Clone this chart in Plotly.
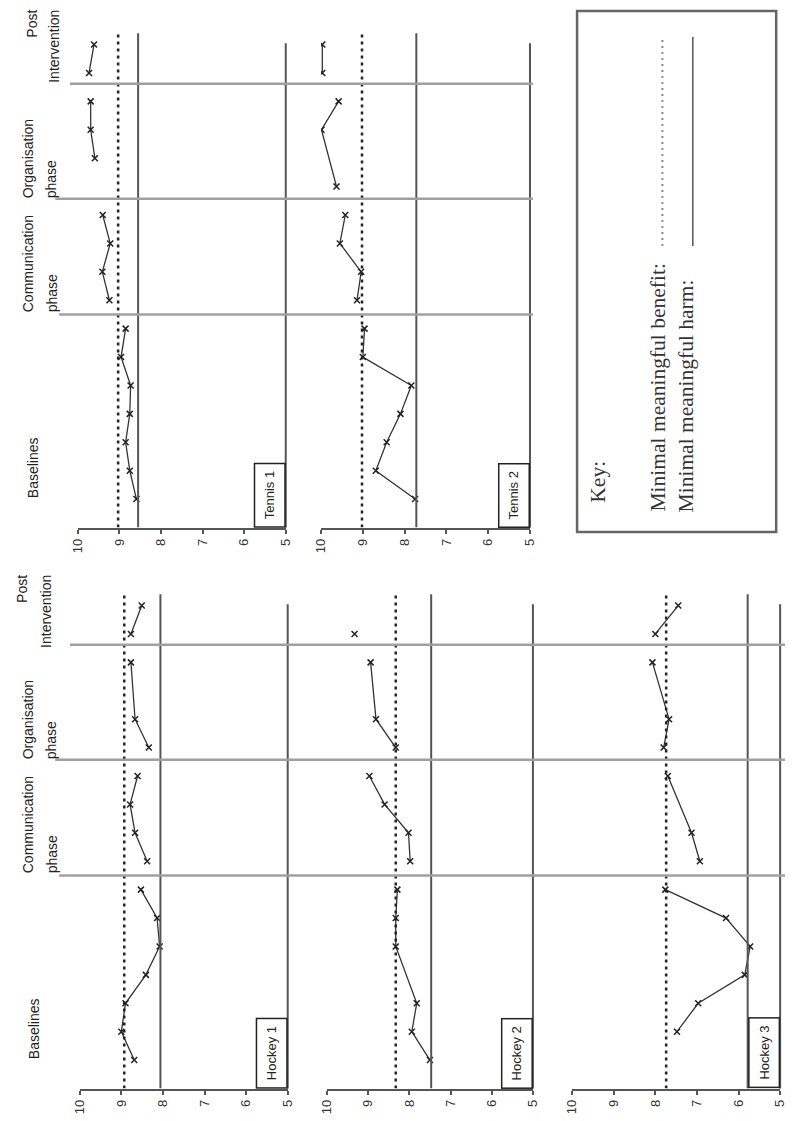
import plotly.graph_objects as go

# The page body has an 8px margin, so the figure is sized to fit the window after it.
PAGE_OFF = 8
FIG_W, FIG_H = 793 - PAGE_OFF, 1121 - PAGE_OFF

# ---------------- data ----------------
value_ticks = [10, 9, 8, 7, 6, 5]
panel_names = ["Tennis 1", "Tennis 2", "Hockey 1", "Hockey 2", "Hockey 3"]

tennis1_session = [0, 1, 2, 3, 4, 5, 6, None, 7, 8, 9, 10, None, 12, 13, 14, None, 15, 16]
tennis1_score = [8.59, 8.75, 8.85, 8.75, 8.73, 8.96, 8.85, None, 9.24, 9.41, 9.22, 9.40, None,
                 9.59, 9.69, 9.69, None, 9.73, 9.61]

tennis2_session = [0, 1, 2, 3, 4, 5, 6, None, 7, 8, 9, 10, None, 11, 13, 14, None, 15, 16]
tennis2_score = [7.75, 8.69, 8.43, 8.10, 7.84, 9.00, 8.96, None, 9.14, 9.04, 9.55, 9.42, None,
                 9.63, 9.99, 9.58, None, 9.97, 9.97]

hockey1_session = [0, 1, 2, 3, 4, 5, 6, None, 7, 8, 9, 10, None, 11, 12, 14, None, 15, 16]
hockey1_score = [8.69, 9.00, 8.90, 8.41, 8.08, 8.14, 8.53, None, 8.38, 8.67, 8.79, 8.61, None,
                 8.34, 8.67, 8.77, None, 8.77, 8.51]

hockey2_session = [0, 1, 2, 4, 5, 6, None, 7, 8, 9, 10, None, 11, 12, 14, None, 15]
hockey2_score = [7.50, 7.94, 7.82, 8.33, 8.33, 8.29, None, 7.98, 8.02, 8.60, 8.97, None,
                 8.33, 8.81, 8.94, None, 9.33]

hockey3_session = [1, 2, 3, 4, 5, 6, None, 7, 8, 10, None, 11, 12, 14, None, 15, 16]
hockey3_score = [7.48, 6.97, 5.85, 5.72, 6.30, 7.76, None, 6.93, 7.13, 7.70, None,
                 7.80, 7.67, 8.07, None, 8.00, 7.45]

benefit = [9.03, 9.02, 8.93, 8.33, 7.74]   # minimal meaningful benefit per panel
harm = [8.55, 7.72, 8.06, 7.47, 5.78]      # minimal meaningful harm per panel

sessions = [tennis1_session, tennis2_session, hockey1_session, hockey2_session, hockey3_session]
scores = [tennis1_score, tennis2_score, hockey1_score, hockey2_score, hockey3_score]

# ---------------- layout geometry (window pixels) ----------------
SLOT_MIN, SLOT_MAX = -1, 16.6
PHASE_BREAKS = [6.5, 10.57, 14.62]
ROWS = {"top": (527.5, 27.5), "bottom": (1088.5, 588.5)}   # px y of SLOT_MIN / SLOT_MAX
PANEL_PX = [(71, 283, "top"), (319, 532, "top"), (73, 285, "bottom"),
            (325, 535, "bottom"), (575, 787, "bottom")]

SANS = "Liberation Sans, Arial, sans-serif"
SERIF = "Liberation Serif, Times New Roman, serif"
AX = "#555555"


def px(x):
    return (x - PAGE_OFF) / FIG_W


def py(y):
    return 1 - (y - PAGE_OFF) / FIG_H


def slot_py(row, s):
    yb, yt = ROWS[row]
    return py(yb + (s - SLOT_MIN) / (SLOT_MAX - SLOT_MIN) * (yt - yb))


fig = go.Figure()
shapes = []
annotations = []

for i, (name, sess, sc, ben, hm, (x0, x1, row)) in enumerate(
        zip(panel_names, sessions, scores, benefit, harm, PANEL_PX)):
    k = i + 1
    xa, ya = f"x{k}", f"y{k}"
    fig.add_trace(go.Scatter(
        x=sc, y=sess, xaxis=xa, yaxis=ya, mode="lines+markers",
        line=dict(color="#333333", width=1.3),
        marker=dict(symbol="x-thin", size=6, line=dict(color="#222222", width=1.5)),
        connectgaps=False, showlegend=False, hoverinfo="skip"))
    yb, yt = ROWS[row]
    fig.layout[f"xaxis{k}"] = dict(
        domain=[px(x0), px(x1)], range=[10, 5], anchor=ya,
        showline=True, linecolor=AX, linewidth=2, ticks="outside", ticklen=4,
        tickwidth=1.5, tickcolor=AX, tickvals=value_ticks,
        ticktext=[str(v) for v in value_ticks], tickangle=-90,
        tickfont=dict(family=SANS, size=13, color="#333333"),
        showgrid=False, zeroline=False, fixedrange=True)
    fig.layout[f"yaxis{k}"] = dict(
        domain=[py(yb), py(yt)], range=[SLOT_MIN, SLOT_MAX], anchor=xa,
        visible=False, fixedrange=True)
    # harm (solid) and benefit (dotted) lines
    shapes.append(dict(type="line", xref=xa, yref=ya, x0=hm, x1=hm, y0=-1, y1=16.4,
                       line=dict(color=AX, width=2)))
    shapes.append(dict(type="line", xref=xa, yref=ya, x0=ben, x1=ben, y0=-1, y1=16.4,
                       line=dict(color="#222222", width=2.5, dash="3px,4px")))
    # time axis (right side)
    shapes.append(dict(type="line", xref="paper", yref="paper", x0=px(x1), x1=px(x1),
                       y0=slot_py(row, -1), y1=slot_py(row, 16.05),
                       line=dict(color=AX, width=2)))
    # panel name box
    annotations.append(dict(
        text=name, xref=xa, yref=ya, x=5, y=-1, xanchor="right", yanchor="bottom",
        textangle=-90, showarrow=False, bordercolor="#222222", borderwidth=1.5,
        borderpad=7, bgcolor="white", font=dict(family=SANS, size=13, color="#222222")))

# phase separator lines
starts = [52, 48, 63]
for row, xend in (("top", 535), ("bottom", 800)):
    for b, xs in zip(PHASE_BREAKS, starts):
        yy = slot_py(row, b)
        shapes.append(dict(type="line", xref="paper", yref="paper", x0=px(xs), x1=px(xend),
                           y0=yy, y1=yy, line=dict(color="#a0a0a0", width=2.5)))


# phase labels (left side of each row)
def lab(text, xc, y, anchor):
    annotations.append(dict(text=text, xref="paper", yref="paper", x=px(xc), y=py(y),
                            xanchor="center", yanchor=anchor, textangle=-90, showarrow=False,
                            font=dict(family=SANS, size=14, color="#222222")))


for off, post_x, int_x, top in ((0, 24, 46, 8), (561, 14, 38, 573)):
    lab("Baselines", 26, 500 + off, "bottom")
    lab("Communication", 20, 314 + off, "bottom")
    lab("phase", 45, 314 + off, "bottom")
    lab("Organisation", 20, 200 + off, "bottom")
    lab("phase", 44, 200 + off, "bottom")
    lab("Post", post_x, top, "top")
    lab("Intervention", int_x, top, "top")

# key box
shapes.append(dict(type="rect", xref="paper", yref="paper", x0=px(580), x1=px(783),
                   y0=py(532), y1=py(11), line=dict(color="#666666", width=2.5)))
shapes.append(dict(type="line", xref="paper", yref="paper", x0=px(667), x1=px(667),
                   y0=py(246), y1=py(37), line=dict(color="#888888", width=2, dash="2px,4px")))
shapes.append(dict(type="line", xref="paper", yref="paper", x0=px(698), x1=px(698),
                   y0=py(246), y1=py(37), line=dict(color="#555555", width=1.5)))
for text, xc in (("Key:", 601), ("Minimal meaningful benefit:", 662),
                 ("Minimal meaningful harm:", 692)):
    annotations.append(dict(text=text, xref="paper", yref="paper", x=px(xc),
                            y=py(514 if xc > 620 else 505),
                            xanchor="center", yanchor="bottom", textangle=-90, showarrow=False,
                            font=dict(family=SERIF, size=21.5, color="#333333")))

fig.update_layout(width=FIG_W, height=FIG_H, margin=dict(l=0, r=0, t=0, b=0),
                  paper_bgcolor="white", plot_bgcolor="white",
                  shapes=shapes, annotations=annotations, showlegend=False)

fig.write_html("out.html")
